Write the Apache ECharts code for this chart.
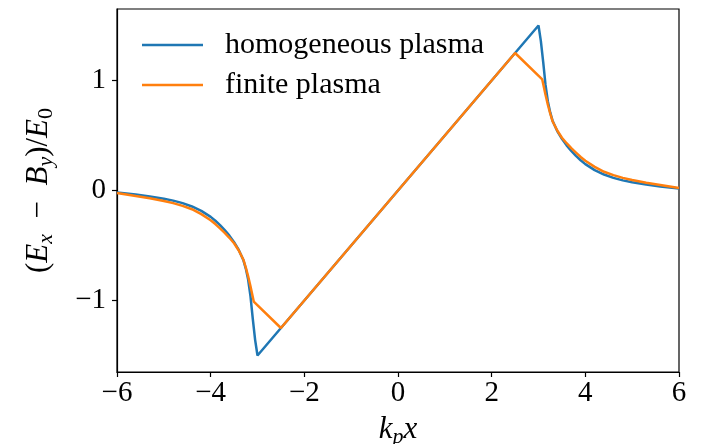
<!DOCTYPE html>
<html>
<head>
<meta charset="utf-8">
<script src="https://cdn.jsdelivr.net/npm/echarts@6/dist/echarts.min.js"></script>
<style>
  html, body { margin: 0; padding: 0; background: #fff; }
  #chart { width: 702px; height: 444px; }
</style>
</head>
<body>
<div id="chart"></div>
<script>
// Field profile across the plasma channel, k_p x from -6 to 6
const homogeneousX = [-6.0, -5.6, -5.3, -5.0, -4.8, -4.6, -4.4, -4.2, -4.0, -3.9, -3.8, -3.7, -3.6, -3.5, -3.4, -3.3, -3.25, -3.2, -3.15, -3.1, -3.05, -3.0,
                      3.0, 3.05, 3.1, 3.15, 3.2, 3.25, 3.3, 3.4, 3.5, 3.6, 3.7, 3.8, 3.9, 4.0, 4.2, 4.4, 4.6, 4.8, 5.0, 5.3, 5.6, 6.0];
const homogeneousY = [-0.018, -0.037, -0.054, -0.075, -0.092, -0.115, -0.145, -0.185, -0.24, -0.275, -0.315, -0.36, -0.41, -0.47, -0.54, -0.635, -0.71, -0.81, -0.96, -1.17, -1.36, -1.5,
                      1.5, 1.36, 1.17, 0.96, 0.81, 0.71, 0.635, 0.54, 0.47, 0.41, 0.36, 0.315, 0.275, 0.24, 0.185, 0.145, 0.115, 0.092, 0.075, 0.054, 0.037, 0.018];

const finiteX = [-6.0, -5.6, -5.3, -5.0, -4.8, -4.6, -4.4, -4.2, -4.0, -3.9, -3.8, -3.7, -3.6, -3.5, -3.4, -3.3, -3.25, -3.2, -3.15, -3.08, -2.5,
                 2.5, 3.08, 3.15, 3.2, 3.25, 3.3, 3.4, 3.5, 3.6, 3.7, 3.8, 3.9, 4.0, 4.2, 4.4, 4.6, 4.8, 5.0, 5.3, 5.6, 6.0];
const finiteY = [-0.022, -0.05, -0.07, -0.095, -0.115, -0.14, -0.17, -0.215, -0.27, -0.305, -0.345, -0.385, -0.43, -0.48, -0.545, -0.63, -0.70, -0.78, -0.87, -1.01, -1.25,
                 1.25, 1.01, 0.87, 0.78, 0.70, 0.63, 0.545, 0.48, 0.43, 0.385, 0.345, 0.305, 0.27, 0.215, 0.17, 0.14, 0.115, 0.095, 0.07, 0.05, 0.022];

const xTicks = [-6, -4, -2, 0, 2, 4, 6];
const yTicks = [-1, 0, 1];

const seriesNames = ['homogeneous plasma', 'finite plasma'];
const pairs = (xs, ys) => xs.map((x, i) => [x, ys[i]]);

const serif = '"Liberation Serif", "DejaVu Serif", serif';
const minusFmt = v => String(v).replace('-', '\u2212');

const mathRich = size => ({
  i: { fontFamily: serif, fontStyle: 'italic', fontSize: size, color: '#000' },
  r: { fontFamily: serif, fontSize: size, color: '#000' },
  s: { fontFamily: serif, fontStyle: 'italic', fontSize: Math.round(size * 0.7), color: '#000', padding: [Math.round(size * 0.45), 0, 0, 0] },
  n: { fontFamily: serif, fontSize: Math.round(size * 0.7), color: '#000', padding: [Math.round(size * 0.45), 0, 0, 0] }
});

const chart = echarts.init(document.getElementById('chart'), null, { renderer: 'canvas' });
chart.setOption({
  animation: false,
  backgroundColor: '#fff',
  grid: {
    left: 117, right: 23, top: 9, bottom: 72,
    outerBoundsMode: 'none',
    containLabel: false,
    show: true, borderColor: '#000', borderWidth: 1.2, backgroundColor: 'transparent'
  },
  legend: {
    orient: 'vertical',
    left: 142, top: 29, padding: 0,
    icon: 'rect',
    itemWidth: 61, itemHeight: 2.5, itemGap: 8,
    data: seriesNames,
    textStyle: { fontFamily: serif, fontSize: 30, color: '#000', padding: [0, 0, 0, 17], lineHeight: 32 }
  },
  xAxis: {
    type: 'value', min: -6, max: 6, interval: 2,
    axisLine: { show: true, onZero: false, lineStyle: { color: '#000', width: 1.2 } },
    axisTick: { show: true, inside: false, length: 5, lineStyle: { color: '#000', width: 1.2 }, customValues: xTicks },
    axisLabel: { customValues: xTicks, formatter: minusFmt, fontFamily: serif, fontSize: 29, color: '#000', margin: 7 },
    splitLine: { show: false },
    name: '{i|k}{s|p}{i|x}',
    nameLocation: 'middle', nameGap: 40,
    nameTextStyle: { rich: mathRich(31) }
  },
  yAxis: {
    type: 'value', min: -1.65, max: 1.65,
    axisLine: { show: true, onZero: false, lineStyle: { color: '#000', width: 1.2 } },
    axisTick: { show: true, inside: false, length: 5, lineStyle: { color: '#000', width: 1.2 }, customValues: yTicks },
    axisLabel: { customValues: yTicks, formatter: minusFmt, fontFamily: serif, fontSize: 29, color: '#000', margin: 11 },
    splitLine: { show: false },
    name: '{r|(}{i|E}{s|x}{r|  \u2212  }{i|B}{s|y}{r|)/}{i|E}{n|0}',
    nameLocation: 'middle', nameGap: 60, nameRotate: 90,
    nameTextStyle: { rich: mathRich(31) }
  },
  series: [
    {
      name: seriesNames[0], type: 'line', data: pairs(homogeneousX, homogeneousY),
      symbol: 'none', smooth: false, color: '#1f77b4',
      lineStyle: { color: '#1f77b4', width: 2.5 }
    },
    {
      name: seriesNames[1], type: 'line', data: pairs(finiteX, finiteY),
      symbol: 'none', smooth: false, color: '#ff7f0e',
      lineStyle: { color: '#ff7f0e', width: 2.5 }
    }
  ]
});
</script>
</body>
</html>
